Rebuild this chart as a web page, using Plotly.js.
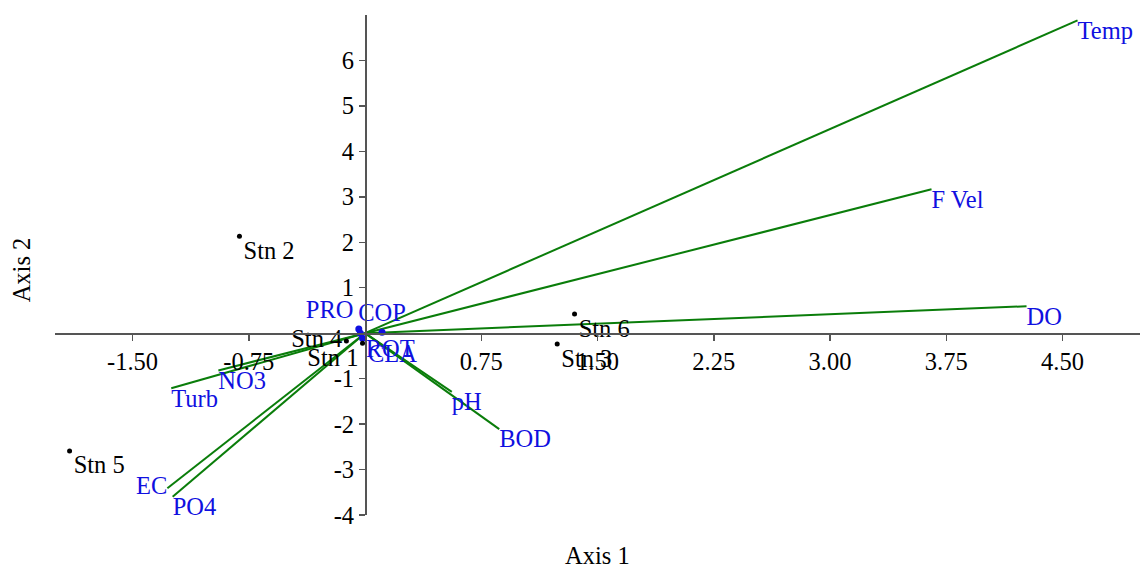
<!DOCTYPE html>
<html>
<head>
<meta charset="utf-8">
<script src="https://cdn.plot.ly/plotly-3.0.1.min.js"></script>
<style>
html,body{margin:0;padding:0;background:#fff;}
#chart{width:1140px;height:565px;}
</style>
</head>
<body>
<div id="chart"></div>
<script>
// Station scores
const stnNames = ["Stn 1", "Stn 2", "Stn 3", "Stn 4", "Stn 5", "Stn 6"];
const stnX = [-0.016, -0.81, 1.24, -0.12, -1.906, 1.352];
const stnY = [-0.22, 2.13, -0.24, -0.17, -2.59, 0.42];
const stnLabelPos = ["bottom left", "bottom right", "bottom right", "middle left", "bottom right", "bottom right"];

// Species scores
const spNames = ["PRO", "COP", "ROT", "CLA"];
const spX = [-0.04, 0.11, -0.03, -0.016];
const spY = [0.09, 0.02, 0.0, -0.11];
const spLabelPos = ["top left", "top center", "bottom right", "bottom right"];

// Environmental variable vectors (arrow tips)
const envNames = ["Temp", "F Vel", "DO", "pH", "BOD", "EC", "PO4", "Turb", "NO3"];
const envX = [4.597, 3.655, 4.268, 0.56, 0.866, -1.275, -1.241, -1.25, -0.946];
const envY = [6.88, 3.165, 0.593, -1.29, -2.11, -3.41, -3.6, -1.21, -0.82];
const envLabelPos = ["bottom right", "bottom right", "bottom right", "bottom right", "bottom right", "middle left", "bottom right", "bottom right", "bottom right"];

// Axis ticks
const xTickVals = [-1.5, -0.75, 0.75, 1.5, 2.25, 3.0, 3.75, 4.5];
const xTickText = ["-1.50", "-0.75", "0.75", "1.50", "2.25", "3.00", "3.75", "4.50"];
const yTickVals = [-4, -3, -2, -1, 1, 2, 3, 4, 5, 6];
const yTickText = ["-4", "-3", "-2", "-1", "1", "2", "3", "4", "5", "6"];

const xRange = [-2, 5];
const yRange = [-4, 7];

const FONT = "Liberation Serif, Times New Roman, serif";
const FS = 24.5;
const traces = [];

// vectors as lines from origin
envNames.forEach((n, i) => {
  traces.push({
    type: "scatter", mode: "lines",
    x: [0, envX[i]], y: [0, envY[i]],
    line: {color: "#0a7d0a", width: 2},
    hoverinfo: "skip", showlegend: false, cliponaxis: false
  });
});
// vector labels
traces.push({
  type: "scatter", mode: "text",
  x: envX, y: envY, text: envNames, textposition: envLabelPos,
  textfont: {family: FONT, size: FS, color: "#1010e0"},
  showlegend: false, cliponaxis: false
});
// species
traces.push({
  type: "scatter", mode: "markers+text",
  x: spX, y: spY, text: spNames, textposition: spLabelPos,
  marker: {color: "#1010e0", size: 7},
  textfont: {family: FONT, size: FS, color: "#1010e0"},
  showlegend: false, cliponaxis: false
});
// stations
traces.push({
  type: "scatter", mode: "markers+text",
  x: stnX, y: stnY, text: stnNames, textposition: stnLabelPos,
  marker: {color: "#000", size: 5},
  textfont: {family: FONT, size: FS, color: "#000"},
  showlegend: false, cliponaxis: false
});

const layout = {
  width: 1140, height: 565,
  margin: {l: 55, r: 0, t: 15, b: 50, pad: 0},
  paper_bgcolor: "#fff", plot_bgcolor: "#fff",
  showlegend: false,
  font: {family: FONT, size: FS, color: "#000"},
  xaxis: {
    range: xRange, anchor: "free", position: (0 - yRange[0]) / (yRange[1] - yRange[0]),
    showgrid: false, zeroline: false, showline: true, linecolor: "#555", linewidth: 1.5,
    ticks: "outside", ticklen: 6, tickcolor: "#555", tickwidth: 1.5,
    tickmode: "array", tickvals: xTickVals, ticktext: xTickText,
    tickfont: {family: FONT, size: FS, color: "#000"}, fixedrange: true
  },
  yaxis: {
    range: yRange, anchor: "free", position: (0 - xRange[0]) / (xRange[1] - xRange[0]),
    showgrid: false, zeroline: false, showline: true, linecolor: "#555", linewidth: 1.5,
    ticks: "outside", ticklen: 6, tickcolor: "#555", tickwidth: 1.5,
    tickmode: "array", tickvals: yTickVals, ticktext: yTickText,
    tickfont: {family: FONT, size: FS, color: "#000"}, fixedrange: true
  },
  annotations: [
    {text: "Axis 1", xref: "paper", yref: "paper", x: 0.5, y: -0.08, yanchor: "middle",
     showarrow: false, font: {family: FONT, size: FS, color: "#000"}},
    {text: "Axis 2", xref: "paper", yref: "paper", x: -0.031, y: 0.49, xanchor: "center", yanchor: "middle",
     textangle: -90, showarrow: false, font: {family: FONT, size: FS, color: "#000"}}
  ]
};

Plotly.newPlot("chart", traces, layout, {staticPlot: true, displayModeBar: false});
</script>
</body>
</html>
